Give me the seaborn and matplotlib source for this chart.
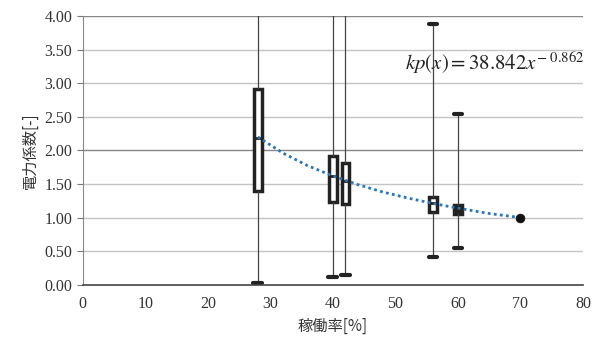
import seaborn as sns
import matplotlib.pyplot as plt
import pandas as pd

# operating rate [%] and box stats of the power coefficient
rates = [28, 40, 42, 56, 60]
kp_min = [0.02, 0.12, 0.14, 0.42, 0.55]
kp_q1 = [1.39, 1.23, 1.20, 1.08, 1.06]
kp_med = [2.19, 1.62, 1.55, 1.22, 1.12]
kp_q3 = [2.91, 1.91, 1.81, 1.30, 1.19]
kp_max = [4.60, 4.60, 4.60, 3.88, 2.54]

# power-law trend line
trend_x = [28, 32, 36, 40, 44, 48, 52, 56, 60, 65, 70]
trend_y = [2.20, 1.96, 1.77, 1.62, 1.49, 1.38, 1.29, 1.21, 1.14, 1.06, 1.00]

point_x = [70]
point_y = [1.00]

equation = r"$kp(x) = 38.842x^{-\ 0.862}$"

rows = []
for i, r in enumerate(rates):
    for v in (kp_min[i], kp_q1[i], kp_med[i], kp_q3[i], kp_max[i]):
        rows.append({"rate": r, "kp": v})
df = pd.DataFrame(rows)

sns.set_style("white")
plt.rcParams["font.family"] = ["Liberation Serif", "Noto Sans CJK JP"]
plt.rcParams["mathtext.fontset"] = "stix"

fig = plt.figure(figsize=(6.13, 3.39), dpi=100)
ax = fig.add_axes([0.135, 0.16, 0.816, 0.793])

for yv in [0.5, 1.0, 1.5, 2.0, 2.5, 3.0, 3.5, 4.0]:
    ax.axhline(yv, color="#888888" if yv in (2.0, 4.0) else "#c4c4c4", lw=1, zorder=0)

sns.boxplot(data=df, x="rate", y="kp", native_scale=True, whis=(0, 100),
            width=0.6, color="white", linecolor="#222222", linewidth=2.5,
            showfliers=False, ax=ax,
            whiskerprops={"linewidth": 0.9, "color": "#444444"},
            capprops={"linewidth": 3, "color": "#222222"},
            medianprops={"linewidth": 2, "color": "#222222"})
# narrowest box looks solid in the original
ax.patches[-1].set_facecolor("#222222")

# make caps as wide as the boxes
for ln in ax.lines:
    xd, yd = ln.get_xdata(), ln.get_ydata()
    if len(xd) == 2 and yd[0] == yd[1] and ln.get_linewidth() == 3:
        c = (xd[0] + xd[1]) / 2
        ln.set_xdata([c - 0.7, c + 0.7])

sns.lineplot(x=trend_x, y=trend_y, ax=ax, color="#2e75b6", lw=2,
             linestyle=(0, (1, 1.2)), zorder=5)
sns.scatterplot(x=point_x, y=point_y, ax=ax, color="#111111", s=40,
                edgecolor="#111111", zorder=6)

ax.text(51.6, 3.3, equation, fontsize=15, color="#222222", va="center", zorder=7)

ax.set_xlim(0, 80)
ax.set_ylim(0, 4)
ax.set_xticks(range(0, 81, 10))
ax.set_yticks([i * 0.5 for i in range(9)])
ax.set_yticklabels([f"{i * 0.5:.2f}" for i in range(9)])
ax.tick_params(axis="x", length=0, labelsize=11.5, colors="#333333", pad=8)
ax.tick_params(axis="y", length=4, direction="out", labelsize=11.5,
               colors="#333333", left=True, width=0.8)
ax.tick_params(axis="y", color="#777777")

for s in ["top", "right"]:
    ax.spines[s].set_visible(False)
ax.spines["left"].set_color("#888888")
ax.spines["bottom"].set_color("#444444")
ax.spines["bottom"].set_linewidth(1.2)

ax.set_xlabel("稼働率[%]", family=["Noto Sans CJK JP", "DejaVu Sans"],
              fontsize=11, color="#333333", labelpad=4)
ax.set_ylabel("電力係数[-]", family=["Noto Sans CJK JP", "DejaVu Sans"],
              fontsize=11, color="#333333", labelpad=4)

fig.savefig("out.png", dpi=100)
